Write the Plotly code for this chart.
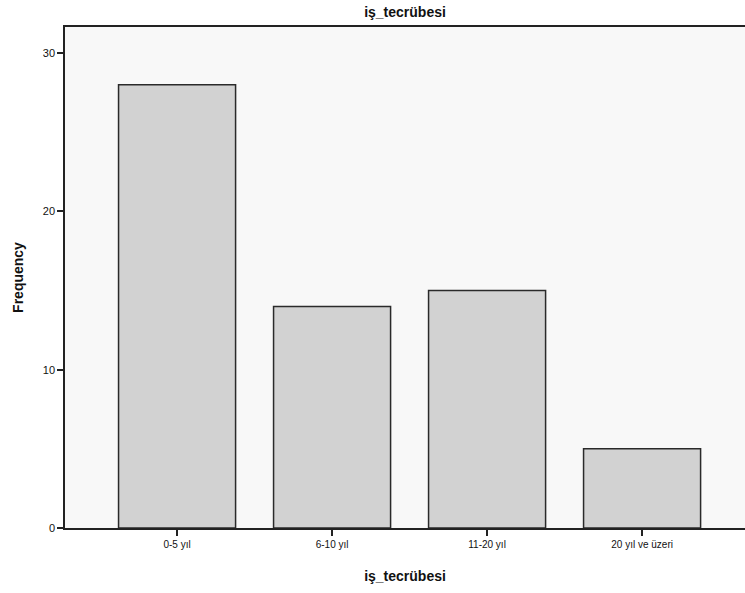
import plotly.graph_objects as go

categories = ["0-5 yıl", "6-10 yıl", "11-20 yıl", "20 yıl ve üzeri"]
frequencies = [28, 14, 15, 5]
y_ticks = [0, 10, 20, 30]

fig = go.Figure()
fig.add_trace(go.Bar(
    x=list(range(len(categories))),
    y=frequencies,
    width=0.755,
    marker=dict(color="#d2d2d2", line=dict(color="#2a2a2a", width=1.5)),
    hoverinfo="skip",
))

fig.update_layout(
    width=745, height=593,
    margin=dict(l=65, r=0, t=27, b=65, autoexpand=False),
    paper_bgcolor="white",
    plot_bgcolor="#f8f8f8",
    showlegend=False,
    font=dict(family="Liberation Sans, Arial, sans-serif", color="#111"),
    title=dict(text="<b>iş_tecrübesi</b>", x=0.5, xanchor="center", xref="paper",
               y=1 - 12/593, yanchor="middle", font=dict(size=14)),
)
fig.update_xaxes(
    range=[-0.723, 3.664],
    tickmode="array",
    tickvals=list(range(len(categories))),
    ticktext=categories,
    ticks="outside", ticklen=6, tickwidth=1.5, tickcolor="#222",
    showline=True, linecolor="#222", linewidth=1.5, mirror=True,
    showgrid=False, zeroline=False,
    tickfont=dict(size=10),
    title=dict(text="<b>iş_tecrübesi</b>", font=dict(size=14), standoff=22),
)
fig.update_yaxes(
    range=[0, 31.65],
    tickmode="array",
    tickvals=y_ticks,
    ticks="outside", ticklen=6, tickwidth=1.5, tickcolor="#222",
    showline=True, linecolor="#222", linewidth=1.5,
    showgrid=False, zeroline=False,
    tickfont=dict(size=11),
    title=dict(text="<b>Frequency</b>", font=dict(size=14), standoff=16),
)

fig.write_html("out.html",
               config={"displayModeBar": False},
               post_script="document.body.style.margin='0';document.body.style.overflow='hidden';")
